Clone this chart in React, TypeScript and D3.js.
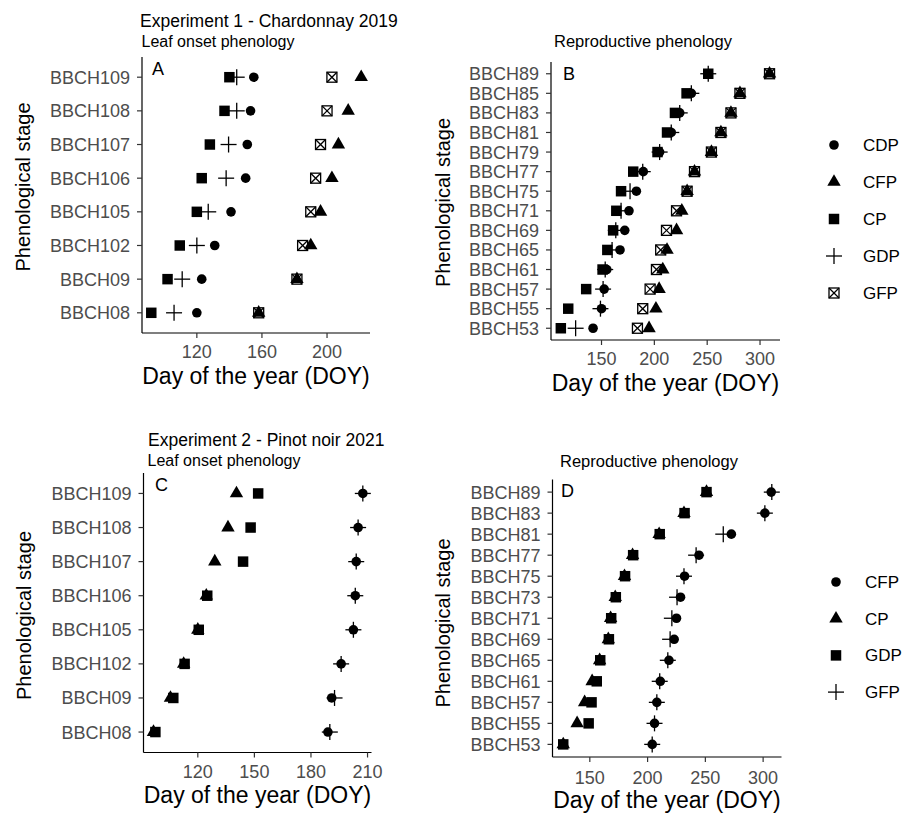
import React from 'react';
import * as d3 from 'd3';

// categories (bottom to top)
const leafStages = ['BBCH08', 'BBCH09', 'BBCH102', 'BBCH105', 'BBCH106', 'BBCH107', 'BBCH108', 'BBCH109'];
const reproStages1 = ['BBCH53', 'BBCH55', 'BBCH57', 'BBCH61', 'BBCH65', 'BBCH69', 'BBCH71', 'BBCH75', 'BBCH77', 'BBCH79', 'BBCH81', 'BBCH83', 'BBCH85', 'BBCH89'];
const reproStages2 = ['BBCH53', 'BBCH55', 'BBCH57', 'BBCH61', 'BBCH65', 'BBCH69', 'BBCH71', 'BBCH73', 'BBCH75', 'BBCH77', 'BBCH81', 'BBCH83', 'BBCH89'];

// groups
const exp1Groups = ['CDP', 'CFP', 'CP', 'GDP', 'GFP'];
const exp2Groups = ['CFP', 'CP', 'GDP', 'GFP'];

// Experiment 1 - leaf onset (DOY)
const aCDP = [120, 123, 131, 141, 150, 151, 153, 155];
const aCFP = [158, 181.5, 190, 196, 203, 207, 213, 221];
const aCP = [92, 102, 109.5, 120, 123, 128, 137, 140];
const aGDP = [106, 111, 120, 127, 138, 139.5, 144.5, 144.5];
const aGFP = [158, 181.5, 185, 190, 193, 196, 200, 203];

// Experiment 1 - reproductive (DOY)
const bCDP = [142, 150, 152.5, 155, 167.5, 172, 176, 183, 189.5, 205, 216, 224, 235, 251];
const bCFP = [195, 201.5, 204.5, 208, 212, 221, 226, 231, 238, 254, 263, 272.5, 281, 309];
const bCP = [111.5, 118.5, 135.5, 151, 155.5, 161, 164, 168.5, 180, 203, 212, 219.5, 230.5, 251];
const bGDP = [125.5, 149, 151.5, 153.5, 160, 163.5, 168.5, 177, 189, 205, 216, 224, 235, 251];
const bGFP = [184, 189, 196, 202, 206, 211.5, 221, 231, 238, 254, 263, 272.5, 281, 309];

// Experiment 2 - leaf onset (DOY)
const cCFP = [189, 191, 196, 202.5, 203.5, 204, 205, 207.5];
const cCP = [96.5, 105.5, 112.5, 120, 124.5, 129, 136, 140.5];
const cGDP = [97.5, 107, 113, 120.5, 125, 144, 148, 152];
const cGFP = [190, 192.5, 196, 202.5, 203.5, 204, 205, 207.5];

// Experiment 2 - reproductive (DOY)
const dCFP = [204, 206, 208, 211, 218.5, 223, 225, 228.5, 232, 244.5, 272.5, 301.5, 307];
const dCP = [127, 139, 145.5, 152, 158.5, 166, 168, 172, 180, 187, 210, 231.5, 251];
const dGDP = [127, 149, 151.5, 156, 159, 166.5, 168.5, 172.5, 180.5, 187.5, 210.5, 232, 251];
const dGFP = [204, 206, 208, 210.5, 217.5, 219.5, 221, 225.5, 231.5, 242, 265.5, 301.5, 307.5];

const ticksA = [120, 160, 200];
const ticksB = [150, 200, 250, 300];
const ticksC = [120, 150, 180, 210];
const ticksD = [150, 200, 250, 300];

type Shape = 'circle' | 'triangle' | 'square' | 'plus' | 'squarecross';
const exp1Shapes: Shape[] = ['circle', 'triangle', 'square', 'plus', 'squarecross'];
const exp2Shapes: Shape[] = ['circle', 'triangle', 'square', 'plus'];

const FONT = '"Liberation Sans", Arial, sans-serif';
const triPath = d3.symbol().type(d3.symbolTriangle).size(78)()!;
const sqPath = d3.symbol().type(d3.symbolSquare).size(110)()!;

function Mark({ shape, x, y }: { shape: Shape; x: number; y: number }) {
  const t = `translate(${x},${y})`;
  if (shape === 'circle') return <circle cx={x} cy={y} r={4.8} fill="#000" />;
  if (shape === 'triangle') return <path transform={t} d={triPath} fill="#000" />;
  if (shape === 'square') return <path transform={t} d={sqPath} fill="#000" />;
  if (shape === 'plus') {
    return (
      <g transform={t} stroke="#000" strokeWidth={1.3}>
        <line x1={-8} x2={8} y1={0} y2={0} />
        <line x1={0} x2={0} y1={-8} y2={8} />
      </g>
    );
  }
  const h = 5;
  return (
    <g transform={t} stroke="#000" strokeWidth={1.3} fill="none">
      <rect x={-h} y={-h} width={2 * h} height={2 * h} />
      <line x1={-h} y1={-h} x2={h} y2={h} />
      <line x1={-h} y1={h} x2={h} y2={-h} />
    </g>
  );
}

interface PanelProps {
  tag: string;
  stages: string[];
  series: number[][];
  shapes: Shape[];
  domain: [number, number];
  ticks: number[];
  left: number;
  right: number;
  top: number;
  bottom: number;
  tickLabelY: number;
  xTitleY: number;
  yTitleX: number;
  yTitleY: number;
  tagY: number;
  tagX: number;
}

function Panel(p: PanelProps) {
  const x = d3.scaleLinear().domain(p.domain).range([p.left, p.right]);
  const y = d3.scalePoint<string>().domain(p.stages).range([p.bottom, p.top]).padding(0.6);
  return (
    <g fontFamily={FONT}>
      {p.series.map((vals, gi) => (
        <g key={gi}>
          {vals.map((v, i) => (
            <Mark key={i} shape={p.shapes[gi]} x={x(v)} y={y(p.stages[i])!} />
          ))}
        </g>
      ))}
      <line x1={p.left} x2={p.left} y1={p.top} y2={p.bottom} stroke="#000" strokeWidth={1.2} />
      <line x1={p.left} x2={p.right} y1={p.bottom} y2={p.bottom} stroke="#000" strokeWidth={1.2} />
      {p.stages.map((s) => (
        <g key={s}>
          <line x1={p.left - 5} x2={p.left} y1={y(s)} y2={y(s)} stroke="#333" strokeWidth={1.2} />
          <text x={p.left - 12} y={y(s)! + 6.5} textAnchor="end" fontSize={18} fill="#4d4d4d">{s}</text>
        </g>
      ))}
      {p.ticks.map((t) => (
        <g key={t}>
          <line x1={x(t)} x2={x(t)} y1={p.bottom} y2={p.bottom + 5} stroke="#333" strokeWidth={1.2} />
          <text x={x(t)} y={p.tickLabelY} textAnchor="middle" fontSize={18} fill="#4d4d4d">{t}</text>
        </g>
      ))}
      <text x={(p.left + p.right) / 2} y={p.xTitleY} textAnchor="middle" fontSize={23} fill="#000">Day of the year (DOY)</text>
      <text transform={`translate(${p.yTitleX},${p.yTitleY}) rotate(-90)`} textAnchor="middle" fontSize={20} fill="#000">Phenological stage</text>
      <text x={p.tagX} y={p.tagY} fontSize={18} fill="#000">{p.tag}</text>
    </g>
  );
}

function Legend({ groups, shapes, x, y0, step }: { groups: string[]; shapes: Shape[]; x: number; y0: number; step: number }) {
  return (
    <g fontFamily={FONT}>
      {groups.map((g, i) => (
        <g key={g}>
          <Mark shape={shapes[i]} x={x} y={y0 + i * step} />
          <text x={x + 29} y={y0 + i * step + 6} fontSize={17} fill="#000">{g}</text>
        </g>
      ))}
    </g>
  );
}

export default function App() {
  return (
    <svg width={907} height={815} style={{ position: 'absolute', left: 0, top: 0, background: '#fff' }}>
      <g fontFamily={FONT} fill="#000">
        <text x={140} y={27} fontSize={17.5}>Experiment 1 - Chardonnay 2019</text>
        <text x={141.5} y={47} fontSize={16}>Leaf onset phenology</text>
        <text x={554} y={47} fontSize={16.5}>Reproductive phenology</text>
        <text x={148} y={446} fontSize={17.5}>Experiment 2 - Pinot noir 2021</text>
        <text x={147.5} y={465.5} fontSize={16}>Leaf onset phenology</text>
        <text x={560} y={466.5} fontSize={16.5}>Reproductive phenology</text>
      </g>
      <Panel tag="A" stages={leafStages} series={[aCDP, aCFP, aCP, aGDP, aGFP]} shapes={exp1Shapes}
        domain={[86.3, 226.4]} ticks={ticksA} left={142} right={370} top={57} bottom={333}
        tickLabelY={358} xTitleY={384} yTitleX={30} yTitleY={187} tagX={152} tagY={75} />
      <Panel tag="B" stages={reproStages1} series={[bCDP, bCFP, bCP, bGDP, bGFP]} shapes={exp1Shapes}
        domain={[102.2, 318.9]} ticks={ticksB} left={551} right={780} top={62} bottom={340}
        tickLabelY={365} xTitleY={390.5} yTitleX={450} yTitleY={202.5} tagX={563} tagY={80} />
      <Panel tag="C" stages={leafStages} series={[cCFP, cCP, cGDP, cGFP]} shapes={exp2Shapes}
        domain={[91.2, 212.1]} ticks={ticksC} left={143.5} right={371.5} top={473} bottom={752.5}
        tickLabelY={778} xTitleY={803} yTitleX={31} yTitleY={615.5} tagX={155} tagY={491} />
      <Panel tag="D" stages={reproStages2} series={[dCFP, dCP, dGDP, dGFP]} shapes={exp2Shapes}
        domain={[117.7, 315.9]} ticks={ticksD} left={552.5} right={781.5} top={479.5} bottom={757}
        tickLabelY={784} xTitleY={808} yTitleX={450} yTitleY={623} tagX={561} tagY={497} />
      <Legend groups={exp1Groups} shapes={exp1Shapes} x={834} y0={145} step={37} />
      <Legend groups={exp2Groups} shapes={exp2Shapes} x={836} y0={582} step={36.7} />
    </svg>
  );
}
